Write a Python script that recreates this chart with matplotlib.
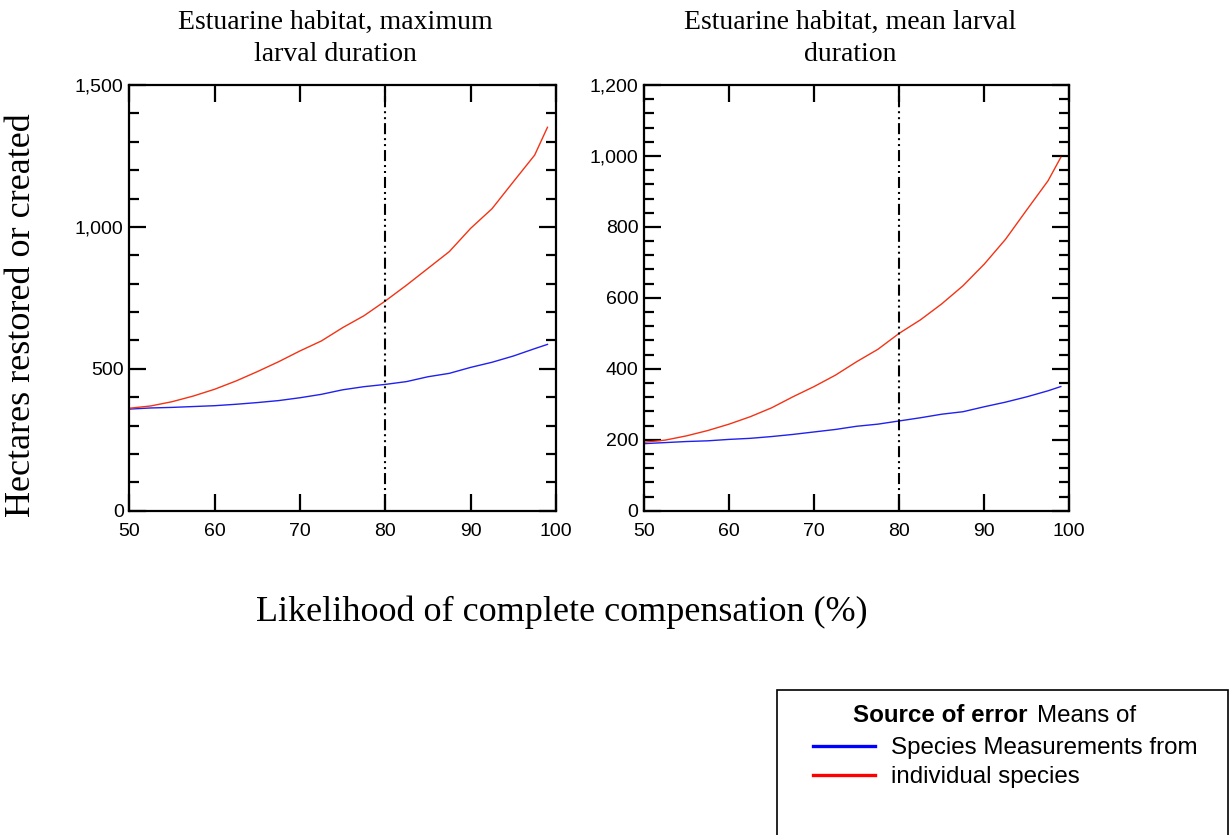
import matplotlib
matplotlib.use("Agg")
import matplotlib.pyplot as plt
from matplotlib.ticker import MultipleLocator, FuncFormatter
from matplotlib.patches import Rectangle

# ---- data ----
likelihood = [50, 52.5, 55, 57.5, 60, 62.5, 65, 67.5, 70, 72.5, 75,
              77.5, 80, 82.5, 85, 87.5, 90, 92.5, 95, 97.5, 99]

# Estuarine habitat, maximum larval duration
max_species_means = [358, 362, 364, 367, 370, 375, 381, 388, 398, 410, 426,
                     437, 445, 455, 472, 484, 505, 523, 545, 571, 586]
max_individual = [361, 369, 384, 404, 428, 457, 490, 525, 563, 598, 645,
                  687, 739, 795, 854, 913, 995, 1064, 1159, 1253, 1351]

# Estuarine habitat, mean larval duration
mean_species_means = [189, 192, 195, 197, 201, 204, 209, 215, 222, 229, 238,
                      244, 253, 262, 272, 279, 293, 306, 321, 338, 350]
mean_individual = [193, 199, 211, 226, 244, 265, 290, 321, 350, 382, 420,
                   455, 500, 538, 583, 634, 695, 765, 848, 930, 996]

titles = ["Estuarine habitat, maximum\nlarval duration",
          "Estuarine habitat, mean larval\nduration"]
ylims = [1500, 1200]
ymajor = [500, 200]
yminor = [100, 40]
xticks = [50, 60, 70, 80, 90, 100]
threshold = 80

legend_title_bold = "Source of error"
legend_title_rest = "Means of"
legend_labels = ["Species Measurements from", "individual species"]

blue = "#2020f0"
red = "#f43214"

SERIF = ["Liberation Serif", "DejaVu Serif"]
SANS = ["Liberation Sans", "DejaVu Sans"]

fig = plt.figure(figsize=(12.31, 8.35), dpi=100)
W, H = 1231, 835

def add_axes(x0, x1, y0, y1):
    return fig.add_axes([x0 / W, 1 - y1 / H, (x1 - x0) / W, (y1 - y0) / H])

ax1 = add_axes(129.3, 556, 85, 510.7)
ax2 = add_axes(644, 1069.3, 85, 510.7)

series = [(max_species_means, max_individual), (mean_species_means, mean_individual)]
lines = []
for i, ax in enumerate([ax1, ax2]):
    b, r = series[i]
    lb, = ax.plot(likelihood, b, color=blue, lw=1.0)
    lr, = ax.plot(likelihood, r, color=red, lw=1.0)
    lines = [lb, lr]
    ax.axvline(threshold, color="black", lw=1.5,
               dashes=(5.3, 1.9, 0.96, 1.9, 0.96, 1.9))
    ax.set_xlim(50, 100)
    ax.set_ylim(0, ylims[i])
    ax.set_xticks(xticks)
    ax.yaxis.set_major_locator(MultipleLocator(ymajor[i]))
    ax.yaxis.set_minor_locator(MultipleLocator(yminor[i]))
    ax.yaxis.set_major_formatter(FuncFormatter(lambda v, p: f"{int(v):,}"))
    ax.tick_params(axis="both", which="major", direction="in", length=12, width=1.6,
                   top=True, right=True, labelsize=14)
    ax.tick_params(axis="x", which="major", pad=9)
    ax.tick_params(axis="y", which="major", pad=4)
    ax.tick_params(axis="y", which="minor", direction="in", length=7, width=1.6,
                   left=True, right=True)
    for lab in ax.get_xticklabels() + ax.get_yticklabels():
        lab.set_family(SANS)
    for s in ax.spines.values():
        s.set_linewidth(1.6)
    ax.set_title(titles[i], family=SERIF, fontsize=20, pad=17, x=0.484,
                 linespacing=1.38)

fig.text(22 / W, 1 - 315 / H, "Hectares restored or created", family=SERIF,
         fontsize=26, rotation=90, ha="center", va="center")
fig.text(562 / W, 1 - 612 / H, "Likelihood of complete compensation (%)",
         family=SERIF, fontsize=26, ha="center", va="center")

# legend box
fig.patches.append(Rectangle((777 / W, -0.01), (1228 - 777) / W, (835 - 690) / H + 0.01,
                             transform=fig.transFigure, fill=False,
                             edgecolor="black", lw=1.2))
fig.text(853 / W, 1 - 716 / H, legend_title_bold, family=SANS,
         fontsize=17.4, fontweight="bold", ha="left", va="center")
fig.text(1037 / W, 1 - 716 / H, legend_title_rest, family=SANS,
         fontsize=17.4, ha="left", va="center")
leg = fig.legend(lines, legend_labels, loc="upper left",
                 bbox_to_anchor=(813 / W, 1 - 737 / H),
                 frameon=False, prop={"family": SANS, "size": 17.4},
                 handlelength=2.56, handletextpad=0.66, labelspacing=0.29,
                 borderaxespad=0, borderpad=0)
for h, c in zip(leg.legend_handles, ["#0000ff", "#ff0000"]):
    h.set_linewidth(2.4)
    h.set_color(c)

fig.savefig("out.png", dpi=100)
